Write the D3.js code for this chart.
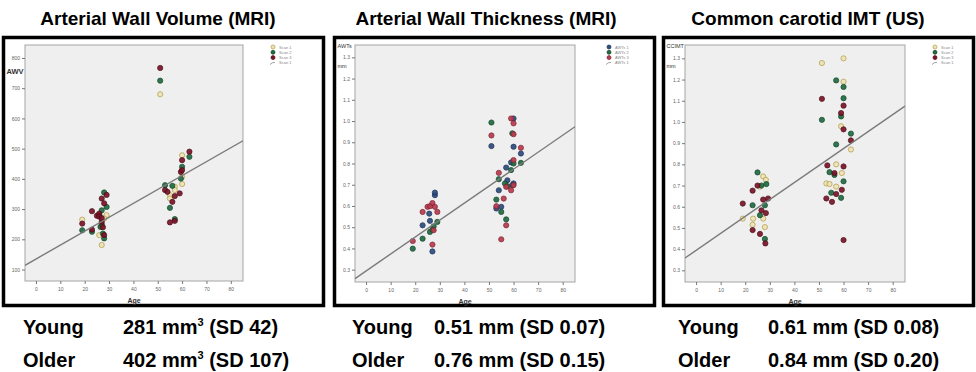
<!DOCTYPE html>
<html>
<head>
<meta charset="utf-8">
<script src="https://cdn.jsdelivr.net/npm/d3@7"></script>
<style>
  body { margin: 0; background: #fff; }
  svg { display: block; font-family: "Liberation Sans", Arial, sans-serif; }
</style>
</head>
<body>
<svg width="976" height="372"></svg>
<script>
// ages on the x axis, shared by all three panels
const ageTicks = [0, 10, 20, 30, 40, 50, 60, 70, 80];
const fitAges = [-4.5, 85];

// Arterial wall volume (MRI), [age, AWV]
const awvTicks = [100, 200, 300, 400, 500, 600, 700, 800];
const awvScan1 = [[19,265],[27,181],[29,280],[26,214],[27,241],[25.5,280],[28,269],[51,680],[60,478],[60,383],[55,346],[57,374],[55,335],[57,363],[60,407]];
const awvScan2 = [[19,230],[23,225],[28,355],[29,307],[27,296],[26.5,241],[27.5,219],[28,203],[26,280],[27,250],[51,725],[53,379],[56,377],[55,304],[63,473],[60,440],[59.5,401],[57,267]];
const awvScan3 = [[19,252],[23,293],[23,232],[25,278],[26,285],[27,335],[29,347],[28,319],[27,258],[28,214],[26,275],[27,270],[27.5,240],[51,767],[53,363],[54,357],[55,256],[57,261],[56,324],[57,343],[59,352],[60,462],[63,490],[59.5,423],[60,429]];
const awvFit = [114, 526];

// Arterial wall thickness (MRI), [age, mm]
const awtTicks = [0.3, 0.4, 0.5, 0.6, 0.7, 0.8, 0.9, 1.0, 1.1, 1.2, 1.3];
const awt1 = [[23,0.509],[27,0.386],[28,0.651],[28,0.663],[25.7,0.564],[26,0.530],[51,0.882],[53,0.588],[54,0.674],[55,0.596],[57,0.781],[59,0.805],[60,1.012],[60,0.879],[60,0.706],[63,0.847],[59.5,0.698],[57.5,0.721]];
const awt2 = [[19,0.399],[23,0.446],[29,0.525],[26,0.478],[27.5,0.504],[27,0.489],[51,0.993],[53,0.630],[54,0.726],[55,0.572],[57,0.537],[56.5,0.706],[59.5,0.942],[60,0.800],[63,0.803],[59,0.769],[57.5,0.693]];
const awt3 = [[19,0.435],[23,0.572],[25,0.596],[26,0.599],[27,0.614],[28,0.596],[27,0.418],[27.5,0.486],[29,0.572],[51,0.932],[53,0.599],[54,0.756],[55,0.443],[56,0.635],[57,0.509],[59,1.012],[60,0.989],[60,0.938],[60,0.816],[63,0.874],[59,0.674],[60,0.698],[57,0.690]];
const awtFit = [0.258, 0.973];

// Common carotid IMT (US), [age, mm]
const ccTicks = [0.3, 0.4, 0.5, 0.6, 0.7, 0.8, 0.9, 1.0, 1.1, 1.2, 1.3];
const cc1 = [[19,0.544],[23,0.515],[27.3,0.743],[28.4,0.727],[27.3,0.544],[28,0.504],[23.2,0.544],[26,0.695],[51.2,1.278],[60,1.30],[60,1.19],[59,0.98],[63,0.87],[53,0.71],[54.3,0.707],[57,0.80],[59.3,0.759],[57,0.695]];
const cc2 = [[23,0.607],[25,0.762],[26,0.56],[26.6,0.70],[28.6,0.707],[28,0.607],[28,0.448],[51.2,1.01],[57,1.196],[60,1.165],[60,1.112],[59,1.026],[63,0.945],[57,0.894],[54.3,0.763],[55,0.666],[59,0.642],[60,0.72],[56.3,0.75]];
const cc3 = [[19,0.615],[23,0.49],[23,0.676],[25,0.70],[26,0.472],[27.3,0.634],[26.6,0.583],[28.4,0.57],[28.2,0.427],[29.3,0.639],[51.2,1.109],[53,0.639],[55.3,0.623],[53.4,0.795],[56.3,0.759],[59,1.042],[60,1.077],[60,0.965],[60,0.79],[59.3,0.68],[63,0.913],[57,0.66],[60,0.443]];
const ccFit = [0.358, 1.075];

const titles = ["Arterial Wall Volume (MRI)", "Arterial Wall Thickness (MRI)", "Common carotid IMT (US)"];
// [before superscript, superscript, after]
const youngText = [["281 mm", "3", " (SD 42)"], ["0.51 mm (SD 0.07)", "", ""], ["0.61 mm (SD 0.08)", "", ""]];
const olderText = [["402 mm", "3", " (SD 107)"], ["0.76 mm (SD 0.15)", "", ""], ["0.84 mm (SD 0.20)", "", ""]];

const yellow = { fill: "#ece3bd", stroke: "#b59d3c" };
const green = { fill: "#1f6c42", stroke: "#0f4527" };
const maroon = { fill: "#7c1328", stroke: "#4a0a17" };
const blue = { fill: "#2c4d80", stroke: "#1a2f52" };
const red = { fill: "#bb3a4c", stroke: "#7c2232" };

const svg = d3.select("svg");

const panels = [
  { box: [3.5, 37.5, 320, 268], plot: [25, 45, 243, 281], yDomain: [62, 843], yTicks: awvTicks,
    fmt: d3.format("d"), yTitle: ["AWV"], yTitleY: 74, fit: awvFit,
    series: [{ data: awvScan1, c: yellow, name: "Scan 1" }, { data: awvScan2, c: green, name: "Scan 2" }, { data: awvScan3, c: maroon, name: "Scan 3" }],
    legendX: 273, fitName: "Scan 1", titleX: 158, textX: [23, 123] },
  { box: [334.5, 37.5, 320, 268], plot: [355, 45, 575, 282], yDomain: [0.242, 1.358], yTicks: awtTicks,
    fmt: d3.format(".1f"), yTitle: ["AWTs", "mm"], yTitleY: 48, fit: awtFit,
    series: [{ data: awt1, c: blue, name: "AWTs 1" }, { data: awt2, c: green, name: "AWTs 2" }, { data: awt3, c: red, name: "AWTs 3" }],
    legendX: 609, fitName: "AWTs 1", titleX: 486, textX: [352, 434] },
  { box: [663.5, 37.5, 310, 268], plot: [685, 45, 905, 282], yDomain: [0.245, 1.363], yTicks: ccTicks,
    fmt: d3.format(".1f"), yTitle: ["CCIMT", "mm"], yTitleY: 48, fit: ccFit,
    series: [{ data: cc1, c: yellow, name: "Scan 1" }, { data: cc2, c: green, name: "Scan 2" }, { data: cc3, c: maroon, name: "Scan 3" }],
    legendX: 935, fitName: "Scan 1", titleX: 808, textX: [678, 768] }
];

panels.forEach((p, i) => {
  const [l, t, r, b] = p.plot;
  const x = d3.scaleLinear().domain([-4.5, 85]).range([l, r]);
  const y = d3.scaleLinear().domain(p.yDomain).range([b, t]);
  const g = svg.append("g");

  // title
  svg.append("text").attr("x", p.titleX).attr("y", 25).attr("text-anchor", "middle")
    .attr("font-size", 19).attr("font-weight", "bold").text(titles[i]);

  // black frame
  g.append("rect").attr("x", p.box[0]).attr("y", p.box[1]).attr("width", p.box[2]).attr("height", p.box[3])
    .attr("fill", "#fff").attr("stroke", "#000").attr("stroke-width", 3.5);

  // plot background
  g.append("rect").attr("x", l).attr("y", t).attr("width", r - l).attr("height", b - t)
    .attr("fill", "#efefef").attr("stroke", "#a5a5a5").attr("stroke-width", 1);

  const xAxis = g.append("g").attr("transform", `translate(0,${b})`)
    .call(d3.axisBottom(x).tickValues(ageTicks).tickSize(3).tickPadding(3).tickFormat(d3.format("d")));
  const yAxis = g.append("g").attr("transform", `translate(${l},0)`)
    .call(d3.axisLeft(y).tickValues(p.yTicks).tickSize(3).tickPadding(2).tickFormat(p.fmt));
  [xAxis, yAxis].forEach(a => {
    a.select(".domain").remove();
    a.selectAll("line").attr("stroke", "#777");
    a.selectAll("text").attr("font-size", 5).attr("fill", "#666").attr("font-family", "Liberation Sans, Arial");
  });

  g.append("text").attr("x", (l + r) / 2).attr("y", b + 22).attr("text-anchor", "middle")
    .attr("font-size", 7).attr("font-weight", "bold").attr("fill", "#333").text("Age");

  p.yTitle.forEach((s, k) => {
    g.append("text").attr("x", p.box[0] + 3).attr("y", p.yTitleY + k * 20)
      .attr("font-size", i === 0 ? 7.5 : 5.5).attr("font-weight", i === 0 ? "bold" : "normal")
      .attr("fill", "#333").text(s);
  });

  // points
  const clipId = "clip" + i;
  svg.append("clipPath").attr("id", clipId).append("rect")
    .attr("x", l).attr("y", t).attr("width", r - l).attr("height", b - t);
  const inner = g.append("g").attr("clip-path", `url(#${clipId})`);

  p.series.forEach(s => {
    inner.append("g").selectAll("circle").data(s.data).enter().append("circle")
      .attr("cx", d => x(d[0])).attr("cy", d => y(d[1])).attr("r", 2.6)
      .attr("fill", s.c.fill).attr("stroke", s.c.stroke).attr("stroke-width", 0.8).attr("opacity", 0.92);
  });

  // fit line
  inner.append("line")
    .attr("x1", x(fitAges[0])).attr("y1", y(p.fit[0]))
    .attr("x2", x(fitAges[1])).attr("y2", y(p.fit[1]))
    .attr("stroke", "#7a7a7a").attr("stroke-width", 1.4);

  // legend
  const lg = g.append("g").attr("transform", `translate(${p.legendX},47)`);
  p.series.forEach((s, k) => {
    lg.append("circle").attr("cx", 0).attr("cy", k * 5.3).attr("r", 2)
      .attr("fill", s.c.fill).attr("stroke", s.c.stroke).attr("stroke-width", 0.7);
    lg.append("text").attr("x", 6).attr("y", k * 5.3 + 1.5).attr("font-size", 4).attr("fill", "#888").text(s.name);
  });
  lg.append("path").attr("d", "M-3,17.5 Q-1,15 2,15.5").attr("fill", "none").attr("stroke", "#888").attr("stroke-width", 0.8);
  lg.append("text").attr("x", 6).attr("y", 3 * 5.3 + 1.5).attr("font-size", 4).attr("fill", "#888").text(p.fitName);

  // summary text below the frame
  [["Young", youngText[i], 334], ["Older", olderText[i], 367]].forEach(row => {
    svg.append("text").attr("x", p.textX[0]).attr("y", row[2]).attr("font-size", 20)
      .attr("font-weight", "bold").text(row[0]);
    const tx = svg.append("text").attr("x", p.textX[1]).attr("y", row[2]).attr("font-size", 20)
      .attr("font-weight", "bold");
    tx.append("tspan").text(row[1][0]);
    if (row[1][1]) {
      tx.append("tspan").attr("font-size", 11).attr("dy", -8).text(row[1][1]);
      tx.append("tspan").attr("dy", 8).text(row[1][2]);
    }
  });
});
</script>
</body>
</html>
